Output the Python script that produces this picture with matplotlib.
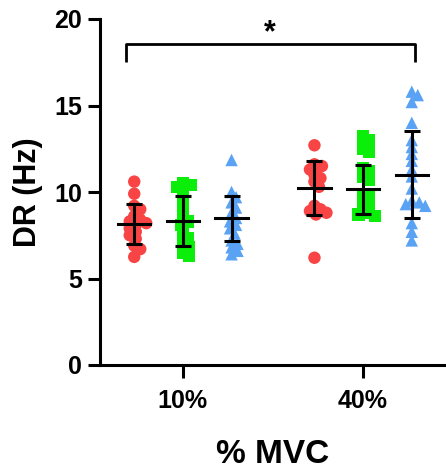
import numpy as np
import matplotlib
matplotlib.use("Agg")
import matplotlib.pyplot as plt

plt.rcParams['font.family'] = ['Liberation Sans', 'DejaVu Sans']
plt.rcParams['font.weight'] = 'bold'

# data (Hz)
groups = ['10%', '40%']
red10 = [10.6, 9.9, 9.2, 9.0, 8.6, 8.4, 8.3, 8.2, 8.1, 7.9, 7.7, 7.5, 7.3, 6.9, 6.7, 6.25]
green10 = [10.5, 10.4, 10.3, 9.9, 9.5, 9.0, 8.6, 8.3, 8.1, 7.6, 7.3, 7.0, 6.8, 6.5, 6.3]
blue10 = [11.85, 10.0, 9.7, 9.4, 9.1, 8.8, 8.5, 8.3, 8.1, 7.9, 7.6, 7.2, 7.0, 6.8, 6.6, 6.4]
red40 = [12.7, 11.6, 11.5, 11.3, 11.0, 10.8, 10.6, 10.3, 9.2, 9.0, 8.9, 8.8, 8.7, 6.2]
green40 = [13.2, 13.0, 12.5, 12.3, 11.4, 11.2, 10.9, 10.7, 9.9, 9.7, 9.4, 9.2, 9.0, 8.8, 8.7, 8.6]
blue40 = [15.8, 15.6, 15.2, 14.0, 13.0, 12.6, 12.2, 11.8, 11.3, 10.9, 10.2, 9.5, 9.4, 9.3, 9.2, 8.2, 7.7, 7.2]

means10 = [8.15, 8.32, 8.48]
sds10 = [1.18, 1.47, 1.30]
means40 = [10.25, 10.15, 11.0]
sds40 = [1.57, 1.40, 2.50]

colors = ['#f84444', '#0aee0a', '#5aa2f4']
markers = ['o', 's', '^']

fig = plt.figure(figsize=(4.46, 4.71), dpi=100)
ax = fig.add_axes([100/446, 106/471, 346/446, 346/471])
ax.set_xlim(-0.46, 1.46)
ax.set_ylim(0, 20)

# pixels per data unit, for a simple swarm layout
px_x = 346 / (1.46 + 0.46)
px_y = 346 / 20.0


def swarm(vals, dmin=6.5, step=1.5):
    placed = []
    offs = []
    for v in vals:
        yp = v * px_y
        k = 0
        while True:
            cands = [0.0] if k == 0 else [k * step, -k * step]
            ok = None
            for c in cands:
                if all((c - px) ** 2 + (yp - py) ** 2 >= dmin ** 2 for px, py in placed):
                    ok = c
                    break
            if ok is not None:
                placed.append((ok, yp))
                offs.append(ok / px_x)
                break
            k += 1
    return np.array(offs)


data = [[red10, green10, blue10], [red40, green40, blue40]]
means = [means10, means40]
sds = [sds10, sds40]
offset = 0.27

for g in range(2):
    for s in range(3):
        x0 = g + (s - 1) * offset
        vals = np.array(data[g][s])
        xs = x0 + swarm(vals)
        ax.scatter(xs, vals, s=80, marker=markers[s], color=colors[s],
                   edgecolors='none', zorder=2)
        m = means[g][s]
        sd = sds[g][s]
        ax.errorbar(x0, m, yerr=sd, fmt='none', ecolor='black', elinewidth=2.2,
                    capsize=6, capthick=2.2, zorder=3)
        ax.plot([x0 - 0.09, x0 + 0.09], [m, m], color='black', lw=2.2, zorder=3)

# significance bracket
bx = [-0.317, 1.289]
ax.plot([bx[0], bx[0], bx[1], bx[1]], [17.5, 18.55, 18.55, 17.5], color='black',
        lw=2, clip_on=False, solid_capstyle='butt')
ax.text(0.483, 19.2, '*', ha='center', va='center', fontsize=22, fontweight='bold')

ax.spines['top'].set_visible(False)
ax.spines['right'].set_visible(False)
ax.spines['left'].set_linewidth(2.2)
ax.spines['bottom'].set_linewidth(2.2)
ax.set_yticks([0, 5, 10, 15, 20])
ax.set_xticks([0, 1])
ax.set_xticklabels(groups)
ax.tick_params(width=2.2, length=9, labelsize=18)
ax.tick_params(axis='y', pad=4)
ax.tick_params(axis='x', pad=8)
ax.set_ylabel('DR (Hz)', fontsize=22, fontweight='bold')
ax.set_xlabel('% MVC', fontsize=24, fontweight='bold')
ax.yaxis.set_label_coords(-0.165, 0.5)
ax.xaxis.set_label_coords(0.5, -0.215)

fig.savefig('out.png', dpi=100)
